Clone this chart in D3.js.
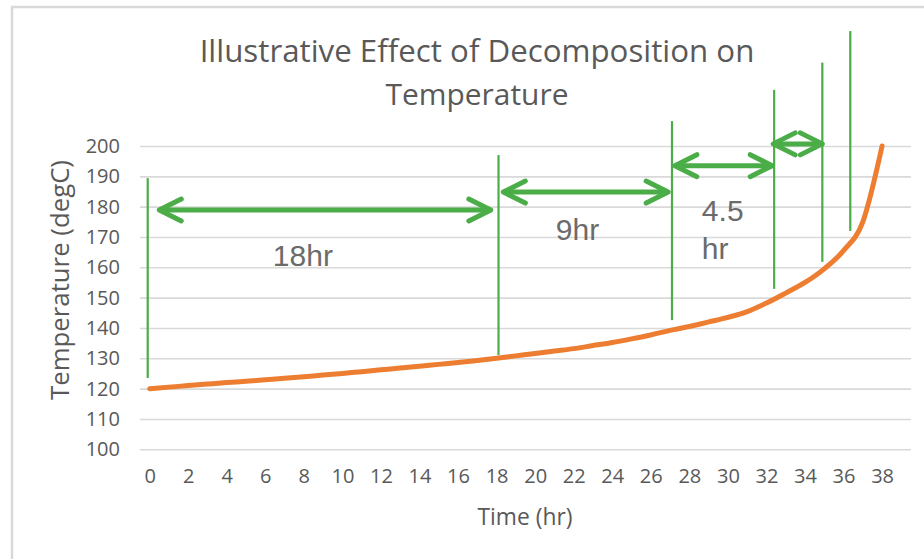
<!DOCTYPE html>
<html>
<head>
<meta charset="utf-8">
<script src="https://cdn.jsdelivr.net/npm/d3@7"></script>
<style>
  html, body { margin: 0; padding: 0; background: #fff; }
  svg { display: block; }
</style>
</head>
<body>
<svg id="chart" width="924" height="559"></svg>
<script>
// data
const hours = [0, 1, 2, 3, 4, 5, 6, 7, 8, 9, 10, 11, 12, 13, 14, 15, 16, 17, 18, 19,
               20, 21, 22, 23, 24, 25, 26, 27, 28, 29, 30, 31, 32, 33, 34, 35, 36, 37, 38];
const temps = [120.0, 120.5, 121.0, 121.5, 122.0, 122.4, 122.9, 123.4, 123.9, 124.5,
               125.0, 125.6, 126.2, 126.8, 127.4, 128.0, 128.6, 129.3, 130.0, 130.8,
               131.6, 132.4, 133.2, 134.2, 135.2, 136.4, 137.7, 139.2, 140.5, 142.0,
               143.5, 145.4, 148.2, 151.5, 155.0, 159.5, 165.5, 175.0, 200.0];
const xTicks = [0, 2, 4, 6, 8, 10, 12, 14, 16, 18, 20, 22, 24, 26, 28, 30, 32, 34, 36, 38];
const yTicks = [100, 110, 120, 130, 140, 150, 160, 170, 180, 190, 200];

// annotation markers: time, bottom temp, top temp
const markerTimes = [-0.1, 18.1, 27.1, 32.4, 34.9, 36.35];
const markerLow   = [123.5, 131.1, 142.6, 152.9, 161.8, 172.0];
const markerHigh  = [189.4, 197.0, 208.2, 218.5, 227.5, 237.9];

// double arrows: from time, to time, at temp
const arrowFrom = [0.5, 18.35, 27.25, 32.35];
const arrowTo   = [17.7, 26.9, 32.3, 34.9];
const arrowAt   = [178.9, 184.8, 193.5, 200.7];

// interval labels
const labelText = ["18hr", "9hr", "4.5", "hr"];
const labelTime = [7.95, 22.2, 28.65, 28.65];
const labelTemp = [160.4, 169.0, 175.3, 162.7];
const labelAnchor = ["middle", "middle", "start", "start"];

const svg = d3.select("#chart");
const plotLeft = 140, plotRight = 911, plotTop = 146, plotBottom = 449.3;

const x = d3.scaleLinear().domain([-0.5, 39.5]).range([plotLeft, plotRight]);
const y = d3.scaleLinear().domain([100, 200]).range([plotBottom, plotTop]);

// outer frame of the chart area (cropped at right/bottom)
svg.append("rect")
  .attr("x", 12).attr("y", 7)
  .attr("width", 1000).attr("height", 700)
  .attr("fill", "#fff")
  .attr("stroke", "#d9d9d9")
  .attr("stroke-width", 2.5);

// shrink/grow a text's font so it spans the width seen in the reference
function fitText(sel, width) {
  const w = sel.node().getComputedTextLength();
  const fs = parseFloat(sel.style("font-size"));
  sel.style("font-size", (fs * width / w) + "px");
}

const title1 = svg.append("text")
  .attr("x", 477).attr("y", 62)
  .attr("text-anchor", "middle")
  .attr("fill", "#595959")
  .style("font-family", "'Open Sans', sans-serif")
  .style("font-size", "28px")
  .text("Illustrative Effect of Decomposition on");
fitText(title1, 555);

const title2 = svg.append("text")
  .attr("x", 477).attr("y", 105)
  .attr("text-anchor", "middle")
  .attr("fill", "#595959")
  .style("font-family", "'Open Sans', sans-serif")
  .style("font-size", "28px")
  .text("Temperature");
fitText(title2, 183);

// gridlines + y tick labels
const yAxis = svg.append("g")
  .attr("transform", "translate(" + plotLeft + ",0)")
  .call(d3.axisLeft(y).tickValues(yTicks).tickSize(-(plotRight - plotLeft)).tickPadding(20));
yAxis.select(".domain").remove();
yAxis.selectAll("line").attr("stroke", "#d9d9d9").attr("stroke-width", 1.6);
yAxis.selectAll("text")
  .attr("fill", "#595959")
  .style("font-family", "'Open Sans', sans-serif")
  .style("font-size", "20px");

// x tick labels
const xAxis = svg.append("g")
  .attr("transform", "translate(0," + plotBottom + ")")
  .call(d3.axisBottom(x).tickValues(xTicks).tickSize(0).tickPadding(20));
xAxis.select(".domain").remove();
xAxis.selectAll("text")
  .attr("fill", "#595959")
  .style("font-family", "'Open Sans', sans-serif")
  .style("font-size", "20px");

// axis titles
const xTitle = svg.append("text")
  .attr("x", 525).attr("y", 525)
  .attr("text-anchor", "middle")
  .attr("fill", "#595959")
  .style("font-family", "'Open Sans', sans-serif")
  .style("font-size", "20px")
  .text("Time (hr)");
fitText(xTitle, 95);

const yTitle = svg.append("text")
  .attr("transform", "translate(69,280) rotate(-90)")
  .attr("text-anchor", "middle")
  .attr("fill", "#595959")
  .style("font-family", "'Open Sans', sans-serif")
  .style("font-size", "20px")
  .text("Temperature (degC)");
fitText(yTitle, 240);

// temperature curve
const line = d3.line()
  .x((d, i) => x(hours[i]))
  .y(d => y(d))
  .curve(d3.curveMonotoneX);

svg.append("path")
  .datum(temps)
  .attr("d", line)
  .attr("fill", "none")
  .attr("stroke", "#ed7d31")
  .attr("stroke-width", 5)
  .attr("stroke-linecap", "round")
  .attr("stroke-linejoin", "round");

// annotations
const green = "#4aad48";

svg.selectAll(".marker")
  .data(markerTimes)
  .enter().append("line")
  .attr("class", "marker")
  .attr("x1", d => x(d)).attr("x2", d => x(d))
  .attr("y1", (d, i) => y(markerLow[i]))
  .attr("y2", (d, i) => y(markerHigh[i]))
  .attr("stroke", green)
  .attr("stroke-width", 2.2);

const headLen = 22, headHalf = 11;
arrowFrom.forEach((t0, i) => {
  const x0 = x(t0), x1 = x(arrowTo[i]), yy = y(arrowAt[i]);
  const g = svg.append("g")
    .attr("fill", "none")
    .attr("stroke", green)
    .attr("stroke-width", 5)
    .attr("stroke-linecap", "round")
    .attr("stroke-linejoin", "round");
  g.append("line")
    .attr("x1", x0 + 2).attr("x2", x1 - 2)
    .attr("y1", yy).attr("y2", yy);
  g.append("path")
    .attr("d", "M" + (x0 + headLen) + "," + (yy - headHalf) + "L" + x0 + "," + yy +
               "L" + (x0 + headLen) + "," + (yy + headHalf));
  g.append("path")
    .attr("d", "M" + (x1 - headLen) + "," + (yy - headHalf) + "L" + x1 + "," + yy +
               "L" + (x1 - headLen) + "," + (yy + headHalf));
});

svg.selectAll(".lbl")
  .data(labelText)
  .enter().append("text")
  .attr("class", "lbl")
  .attr("x", (d, i) => x(labelTime[i]))
  .attr("y", (d, i) => y(labelTemp[i]))
  .attr("text-anchor", (d, i) => labelAnchor[i])
  .attr("fill", "#6b6b6b")
  .style("font-family", "'Liberation Sans', Arial, sans-serif")
  .style("font-size", "30px")
  .text(d => d);
</script>
</body>
</html>
